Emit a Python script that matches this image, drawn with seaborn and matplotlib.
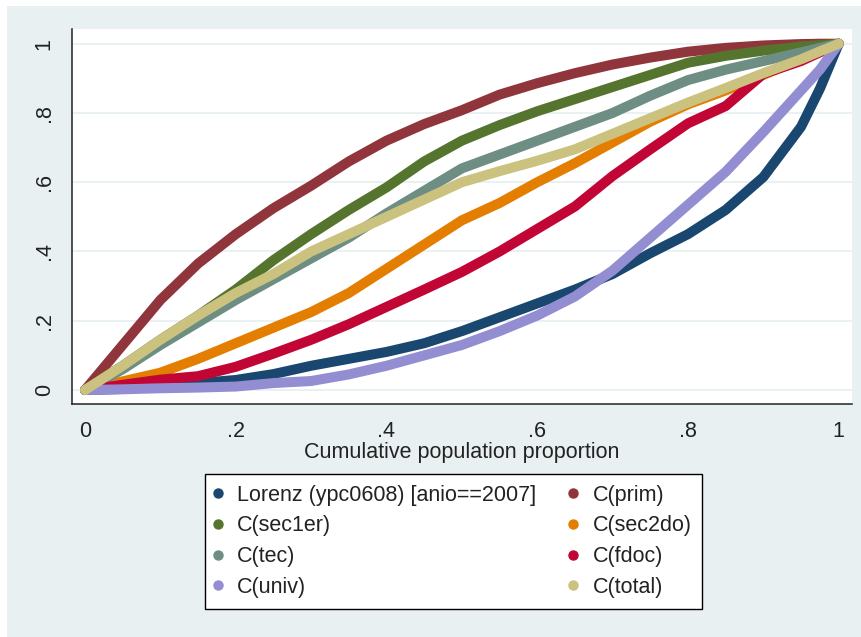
import numpy as np
import pandas as pd
import matplotlib
matplotlib.use("Agg")
import matplotlib.pyplot as plt
from matplotlib.lines import Line2D
from matplotlib.patches import Rectangle
import seaborn as sns

# ---- data ----
p = [0, .05, .1, .15, .2, .25, .3, .35, .4, .45, .5, .55, .6, .65, .7, .75, .8, .85, .9, .95, .975, 1]

lorenz = [0, .003, .01, .02, .029, .046, .07, .09, .11, .135, .17, .21, .25, .29, .335, .395, .45, .52, .615, .76, .87, 1]
prim   = [0, .13, .26, .365, .45, .525, .59, .66, .72, .768, .808, .853, .886, .915, .94, .96, .977, .988, .995, .999, 1, 1]
sec1er = [0, .07, .145, .215, .29, .375, .45, .52, .585, .66, .72, .765, .805, .84, .875, .91, .945, .965, .98, .992, .996, 1]
sec2do = [0, .025, .05, .09, .135, .18, .225, .28, .35, .42, .49, .54, .60, .655, .715, .775, .825, .865, .91, .955, .978, 1]
tec    = [0, .06, .13, .195, .26, .32, .38, .44, .51, .575, .64, .68, .72, .76, .80, .85, .895, .925, .95, .975, .988, 1]
fdoc   = [0, .015, .03, .04, .067, .105, .145, .19, .24, .29, .341, .40, .465, .53, .618, .695, .77, .82, .913, .95, .975, 1]
univ   = [0, .002, .005, .007, .01, .02, .026, .045, .07, .1, .13, .17, .215, .27, .345, .44, .535, .63, .745, .865, .925, 1]
total  = [0, .07, .145, .215, .28, .335, .40, .45, .50, .55, .60, .632, .662, .695, .74, .785, .83, .872, .915, .955, .978, 1]

labels = ["Lorenz (ypc0608) [anio==2007]", "C(prim)", "C(sec1er)", "C(sec2do)",
          "C(tec)", "C(fdoc)", "C(univ)", "C(total)"]
colors = ["#1a476f", "#90353b", "#55752f", "#e37e00",
          "#6e8e84", "#c10534", "#938dd2", "#cac27e"]
series = [lorenz, prim, sec1er, sec2do, tec, fdoc, univ, total]

xticks = [0, .2, .4, .6, .8, 1]
xticklabels = ["0", ".2", ".4", ".6", ".8", "1"]
yticks = [0, .2, .4, .6, .8, 1]
yticklabels = ["0", ".2", ".4", ".6", ".8", "1"]
xlabel = "Cumulative population proportion"

df = pd.concat([pd.DataFrame({"p": p, "L": s, "series": lab})
                for lab, s in zip(labels, series)], ignore_index=True)

# ---- style ----
sns.set_style("white")
plt.rcParams["font.family"] = ["Liberation Sans", "DejaVu Sans"]
BG = "#e8f0f2"
FS = 15.5
TXT = "#222222"

W, H = 862, 637
fig = plt.figure(figsize=(W / 100, H / 100), dpi=100)
fig.patch.set_facecolor("white")
fig.patches.append(Rectangle((7 / W, 0), 1 - 7 / W, 1 - 6 / H, transform=fig.transFigure,
                             facecolor=BG, edgecolor="none", zorder=-10))

ax = fig.add_axes([72 / W, 1 - 404 / H, 780 / W, 375 / H])
ax.set_facecolor("white")

sns.lineplot(data=df, x="p", y="L", hue="series", hue_order=labels,
             palette=dict(zip(labels, colors)), linewidth=7.2, ax=ax,
             legend=False, sort=False, estimator=None,
             solid_capstyle="round")

ax.set_xlim(-0.01725, 1.0176)
ax.set_ylim(-0.0404, 1.0425)
ax.set_xticks(xticks)
ax.set_xticklabels(xticklabels)
ax.set_yticks(yticks)
ax.set_yticklabels(yticklabels, rotation=90, va="center")
ax.tick_params(direction="out", length=6.5, width=1, color=TXT,
               labelsize=FS, pad=6, labelcolor=TXT)
ax.set_axisbelow(True)
ax.yaxis.grid(True, color=BG, linewidth=1.3)
ax.xaxis.grid(False)
for side in ["top", "right"]:
    ax.spines[side].set_visible(False)
for side in ["left", "bottom"]:
    ax.spines[side].set_color(TXT)
    ax.spines[side].set_linewidth(1.1)
ax.set_xlabel(xlabel, fontsize=FS, labelpad=0, color=TXT)
ax.set_ylabel("")

# legend: matplotlib fills column-wise, reference fills row-wise
order = [0, 2, 4, 6, 1, 3, 5, 7]
handles = [Line2D([], [], linestyle="none", marker="o", markersize=6.5,
                  color=colors[i]) for i in order]
leg = fig.legend(handles, [labels[i] for i in order], ncol=2,
                 loc="upper left", bbox_to_anchor=(205 / W, 1 - 474 / H),
                 frameon=True, fancybox=False, edgecolor="black",
                 facecolor="white", framealpha=1, fontsize=FS,
                 handlelength=0.2, handletextpad=0.8, columnspacing=1.6,
                 labelspacing=0.45, borderpad=0.5, borderaxespad=0)
leg.get_frame().set_linewidth(1.0)
for t in leg.get_texts():
    t.set_color(TXT)

fig.savefig("out.png", dpi=100, facecolor=fig.get_facecolor())
